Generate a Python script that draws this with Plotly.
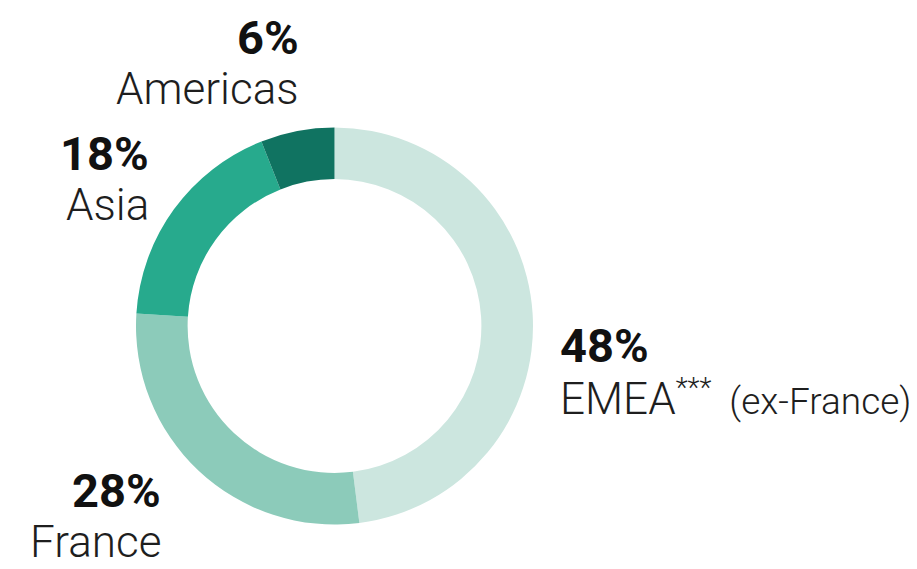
import plotly.graph_objects as go

# the page body has an 8px margin, so the figure is drawn 8px in from the corner
OFF = 8
W, H = 917 - OFF, 569 - OFF

regions = ['EMEA', 'France', 'Asia', 'Americas']
shares = [48, 28, 18, 6]
colors = ['#cce6df', '#8ccbba', '#27aa8d', '#107361']

font_family = 'Roboto, Arial, sans-serif'


def px_x(x):
    return (x - OFF) / W


def px_y(y):
    return 1 - (y - OFF) / H


fig = go.Figure()

fig.add_trace(go.Pie(
    labels=regions,
    values=shares,
    sort=False,
    direction='clockwise',
    hole=0.74,
    marker=dict(colors=colors, line=dict(width=0)),
    textinfo='none',
    hoverinfo='label+percent',
    domain=dict(x=[px_x(136), px_x(533)], y=[px_y(525), px_y(127)]),
    showlegend=False,
))

# label blocks: (x, y of percent line, y of name line, anchor)
label_pos = {
    'EMEA': (558, 345, 398, 'left'),
    'France': (163, 490, 542, 'right'),
    'Asia': (151, 153, 205, 'right'),
    'Americas': (301, 37, 89, 'right'),
}

names = {
    'EMEA': 'EMEA<span style="font-size:40px"><sup>***</sup></span>'
            '<span style="font-size:37px">  (ex-France)</span>',
}

for region, share in zip(regions, shares):
    x, y_pct, y_name, anchor = label_pos[region]
    fig.add_annotation(
        x=px_x(x), y=px_y(y_pct), xref='paper', yref='paper',
        text=f'<b>{share}%</b>', showarrow=False,
        xanchor=anchor, yanchor='middle',
        font=dict(family=font_family, size=47, color='#111111'),
    )
    fig.add_annotation(
        x=px_x(x), y=px_y(y_name), xref='paper', yref='paper',
        text=names.get(region, region), showarrow=False,
        xanchor=anchor, yanchor='middle',
        font=dict(family=font_family, size=44, color='#1e1e1e', weight=300),
    )

fig.update_layout(
    width=W,
    height=H,
    margin=dict(l=0, r=0, t=0, b=0),
    paper_bgcolor='white',
    plot_bgcolor='white',
    font=dict(family=font_family),
)

fig.write_html("out.html")
